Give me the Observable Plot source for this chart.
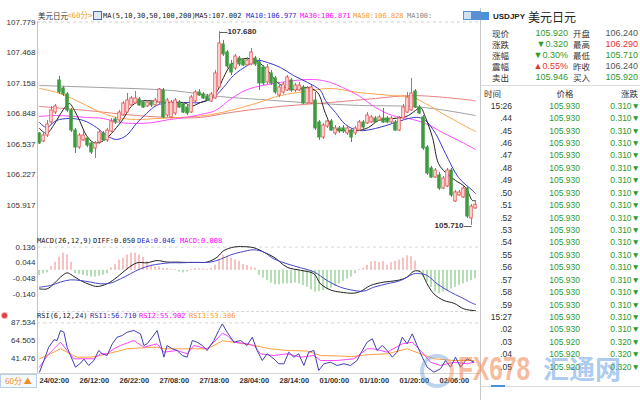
<!DOCTYPE html>
<html><head><meta charset="utf-8">
<script src="https://cdn.jsdelivr.net/npm/d3@7"></script>
<script src="https://cdn.jsdelivr.net/npm/@observablehq/plot@0.6"></script>
<style>
body{margin:0;background:#fff;}
#root{position:relative;width:640px;height:400px;overflow:hidden;font-family:"Liberation Sans","Noto Sans CJK SC",sans-serif;color:#333;background:#fff;}
.abs{position:absolute;white-space:nowrap;line-height:1;}
svg{position:absolute;overflow:visible;}
</style></head><body><div id="root"></div>
<script>
// ---------------- DATA ----------------
const opens = [106.645,106.563,106.624,106.757,106.858,107.184,107.103,107.042,106.879,106.675,
106.502,106.574,106.594,106.543,106.492,106.553,106.645,106.574,106.665,106.787,
106.777,106.828,106.858,106.930,106.950,106.991,106.960,106.920,106.960,106.930,
106.960,107.082,106.828,106.808,106.848,106.960,106.940,106.909,106.858,106.970,
107.062,107.042,107.021,106.970,107.001,107.113,107.550,107.469,107.347,107.306,
107.408,107.388,107.337,107.347,107.408,107.367,107.316,107.164,107.255,107.204,
107.031,107.062,107.082,107.184,107.082,107.082,107.113,106.950,106.950,106.980,
106.757,106.604,106.716,106.767,106.645,106.696,106.696,106.645,106.675,106.645,
106.675,106.757,106.747,106.757,106.797,106.777,106.797,106.797,106.757,106.757,
106.675,106.797,106.858,106.879,107.072,106.909,106.808,106.502,106.289,106.197,
106.218,106.085,106.106,106.268,105.953,106.014,105.994,106.085,105.780,105.882];
const highs = [106.655,106.645,106.777,106.920,106.940,107.225,107.123,107.062,106.899,106.696,
106.645,106.665,106.614,106.563,106.563,106.675,106.665,106.696,106.797,106.808,
106.879,106.970,107.052,107.021,107.072,107.011,106.980,106.980,106.980,107.001,
107.103,107.103,107.001,106.980,107.001,106.980,106.960,106.930,107.031,107.082,
107.092,107.062,107.042,107.062,107.286,107.680,107.591,107.489,107.388,107.449,
107.428,107.408,107.418,107.510,107.428,107.408,107.337,107.347,107.286,107.225,
107.133,107.164,107.235,107.204,107.154,107.164,107.133,107.123,107.133,107.062,
106.777,106.747,106.787,106.787,106.726,106.716,106.726,106.716,106.696,106.716,
106.777,106.777,106.858,106.828,106.818,106.828,106.899,106.818,106.818,106.777,
106.818,106.940,107.062,107.204,107.092,106.930,106.828,106.523,106.309,106.289,
106.248,106.207,106.289,106.289,106.065,106.065,106.106,106.106,105.923,105.963];
const lows = [106.533,106.553,106.604,106.736,106.838,107.042,107.021,106.858,106.655,106.441,
106.482,106.563,106.502,106.431,106.390,106.533,106.563,106.553,106.655,106.736,
106.757,106.818,106.848,106.909,106.940,106.920,106.899,106.909,106.909,106.920,
106.940,106.797,106.808,106.797,106.828,106.899,106.848,106.828,106.848,106.960,
107.021,106.991,106.970,106.960,106.991,107.103,107.428,107.306,107.235,107.286,
107.327,107.327,107.327,107.337,107.327,107.082,107.133,107.143,107.133,107.042,
107.011,107.042,107.072,107.062,107.062,107.072,106.940,106.940,106.940,106.675,
106.574,106.584,106.696,106.665,106.624,106.645,106.645,106.624,106.553,106.624,
106.665,106.686,106.736,106.747,106.747,106.767,106.747,106.747,106.747,106.665,
106.665,106.787,106.848,106.869,106.899,106.838,106.472,106.218,106.187,106.187,
106.065,106.075,106.095,105.994,105.943,106.004,105.984,105.780,105.710,105.872];
const closes = [106.543,106.624,106.736,106.879,106.920,107.062,107.042,106.879,106.675,106.502,
106.624,106.624,106.523,106.452,106.543,106.655,106.574,106.675,106.767,106.757,
106.858,106.950,106.980,107.001,107.001,106.930,106.909,106.960,106.930,106.980,
107.092,106.808,106.980,106.960,106.980,106.909,106.858,106.848,107.011,107.062,
107.031,107.001,106.980,107.042,107.255,107.561,107.449,107.327,107.265,107.428,
107.347,107.337,107.388,107.469,107.347,107.154,107.154,107.316,107.154,107.062,
107.113,107.143,107.215,107.082,107.133,107.133,106.950,107.103,107.113,106.696,
106.604,106.726,106.767,106.675,106.696,106.665,106.665,106.696,106.604,106.696,
106.757,106.706,106.828,106.808,106.757,106.808,106.757,106.757,106.797,106.675,
106.797,106.909,107.011,107.052,106.909,106.848,106.492,106.238,106.197,106.268,
106.085,106.187,106.268,106.014,106.045,106.045,106.085,105.800,105.902,105.920];

// moving averages: [candle index, value]
const ma5 = [[0,106.696],[1.75,106.645],[3.5,106.726],[5,106.828],[6.75,106.930],[7.5,106.950],[8.75,106.879],[10,106.777],[11.75,106.624],[13.5,106.553],[15,106.553],[16.75,106.594],[18,106.645],[19.25,106.706],[21,106.797],[22.5,106.899],[24.25,106.960],[26.75,106.980],[29.25,106.970],[31.75,106.960],[34.25,106.960],[36.75,106.950],[37.75,106.920],[40.25,106.960],[42.75,107.001],[44.5,107.082],[46,107.214],[47.75,107.337],[49.5,107.388],[52,107.408],[54.5,107.377],[57,107.286],[59.5,107.164],[62,107.103],[64.5,107.093],[67,107.113],[69.5,107.062],[71.5,106.848],[73.25,106.706],[75.75,106.675],[79.75,106.675],[82.25,106.706],[84.75,106.777],[88.25,106.797],[90.75,106.808],[92.25,106.828],[94,106.879],[95.25,106.909],[96.5,106.808],[98.25,106.604],[99.75,106.340],[101.5,106.248],[104,106.167],[106.5,106.096],[108.25,105.963],[109,105.963]];
const ma10 = [[0,106.757],[1.75,106.706],[4.25,106.777],[7.5,106.797],[11,106.777],[14.25,106.706],[16.75,106.625],[19.25,106.584],[21.75,106.625],[24.25,106.747],[26.75,106.848],[29.25,106.930],[32.5,106.960],[36.75,106.960],[40.25,106.960],[43.5,107.011],[46,107.113],[48.5,107.235],[52,107.337],[54.5,107.388],[57,107.367],[60.25,107.316],[63.5,107.235],[67,107.164],[70.25,107.082],[71.5,106.980],[74,106.858],[76.5,106.736],[79.75,106.675],[84,106.696],[88.25,106.747],[92.25,106.797],[94.75,106.808],[96.5,106.777],[99,106.645],[101.5,106.441],[104.75,106.197],[108.25,106.065],[109,106.034]];
const ma30 = [[0,106.818],[4.25,106.828],[11.75,106.808],[16,106.797],[20,106.757],[24.25,106.747],[28.5,106.757],[32.5,106.787],[36.75,106.808],[40.25,106.838],[44,106.879],[48,107.001],[52,107.092],[60.25,107.164],[68.5,107.194],[72.75,107.164],[75.75,107.113],[79.75,107.031],[84,106.909],[88.25,106.828],[92.25,106.797],[96.5,106.747],[100.75,106.655],[104.75,106.574],[109,106.482]];
const ma50 = [[0,107.103],[4.25,107.062],[9.25,106.980],[14.25,106.879],[19.25,106.808],[24.25,106.787],[29.25,106.797],[35.25,106.808],[41.5,106.828],[47.75,106.879],[54,106.950],[60.25,107.031],[66.5,107.072],[72.75,107.103],[79.75,107.062],[88.25,107.031],[93.25,107.011],[96.5,106.950],[100.75,106.848],[104.75,106.757],[109,106.665]];
const ma100 = [[0,107.133],[15,107.113],[33,107.082],[45,107.021],[55,106.991],[66,106.960],[80,106.930],[93,106.920],[100,106.889],[109,106.828]];
const ma200 = [[0,106.920],[11.75,106.879],[24.25,106.828],[32.75,106.808],[40.25,106.808],[47.75,106.858],[60.25,106.920],[72.75,106.960],[84,107.001],[93.25,107.031],[108.5,106.980],[109,106.975]];

const macdHist = [-0.03,-0.02,-0.015,0.022,0.047,0.077,0.10,0.09,0.047,-0.02,
-0.025,-0.03,-0.035,-0.04,-0.04,-0.035,-0.03,-0.02,0.015,0.035,
0.06,0.07,0.09,0.1,0.1,0.09,0.075,0.05,0.03,0.02,
0.02,0.01,0.01,0.005,0.005,-0.01,-0.015,-0.01,0.005,0.01,
0.008,0.008,0.005,0.01,0.03,0.06,0.087,0.082,0.07,0.061,
0.052,0.035,0.028,0.018,0.012,-0.03,-0.045,-0.06,-0.075,-0.085,
-0.085,-0.08,-0.08,-0.078,-0.075,-0.08,-0.09,-0.1,-0.115,-0.128,
-0.125,-0.12,-0.115,-0.105,-0.095,-0.08,-0.065,-0.05,-0.04,-0.02,
0.005,0.012,0.03,0.05,0.052,0.045,0.052,0.03,0.045,0.052,
0.06,0.072,0.085,0.08,0.055,-0.01,-0.04,-0.07,-0.1,-0.128,
-0.138,-0.128,-0.12,-0.11,-0.1,-0.09,-0.08,-0.07,-0.06,-0.05];
const diffLine = [[0,-0.109],[1.9,-0.109],[3.6,-0.079],[5.25,-0.040],[6.9,-0.015],[8.2,-0.030],[10.25,-0.060],[12.75,-0.085],[14.4,-0.095],[16.9,-0.079],[19.4,-0.040],[21.9,0.009],[24.4,0.044],[26.9,0.044],[29.4,0.057],[31.9,0.048],[34.4,0.048],[36.9,0.046],[39.4,0.046],[41.9,0.048],[44.4,0.077],[46.1,0.116],[48.6,0.136],[50.25,0.139],[53.6,0.132],[56.1,0.106],[58.6,0.077],[61.9,0.018],[65.25,0.0],[68.6,-0.020],[70.25,-0.079],[72.75,-0.115],[75.25,-0.128],[78.6,-0.134],[80.25,-0.124],[82.75,-0.089],[86.1,-0.069],[89.4,-0.060],[91.9,-0.040],[93.6,-0.005],[95.25,-0.009],[96.9,-0.079],[98.6,-0.138],[101.1,-0.177],[103.6,-0.193],[106.1,-0.226],[108.6,-0.236],[109,-0.236]];
const deaLine = [[0,-0.099],[2.75,-0.089],[5.25,-0.069],[7.75,-0.056],[10.25,-0.060],[12.75,-0.069],[15.25,-0.079],[17.75,-0.075],[20.25,-0.050],[22.75,-0.020],[25.25,0.009],[27.75,0.028],[30.25,0.038],[32.75,0.044],[35.25,0.044],[37.75,0.046],[40.25,0.046],[42.75,0.048],[45.25,0.065],[47.75,0.090],[50.25,0.106],[53.6,0.120],[56.1,0.106],[58.6,0.067],[61.9,0.038],[65.25,0.015],[68.6,-0.009],[71.9,-0.060],[75.25,-0.099],[78.6,-0.118],[81.1,-0.122],[83.6,-0.099],[86.9,-0.079],[90.25,-0.060],[93.6,-0.020],[95.25,-0.020],[96.9,-0.030],[99.4,-0.079],[102.75,-0.128],[105.25,-0.157],[108.6,-0.197],[109,-0.200]];

const rsi1 = [[0,23.3],[1.1,38.5],[2.3,55.8],[3.6,65.4],[4.4,64.5],[5.25,77.5],[6.1,75.3],[6.9,55.8],[7.75,45],[9,29.8],[10.25,35],[11.1,40.2],[12.3,32],[13.6,38.5],[14.8,51.5],[15.7,47.2],[16.9,45],[18.2,60.2],[19.4,68.8],[20.7,71],[21.9,75.3],[23.6,77.5],[25.25,73.2],[26.1,58],[26.9,60.2],[28.2,68.8],[29.4,77.5],[30.25,60.2],[31.1,42.8],[31.9,58],[33.2,53.7],[34.4,51.5],[35.7,45],[36.9,42.8],[38.2,64.5],[39.4,62.3],[40.7,58],[41.9,51.5],[43.6,64.5],[44.8,77.5],[45.7,86.2],[46.9,75.3],[48.6,62.3],[50.25,64.5],[51.9,58],[53.2,68.8],[54.4,51.5],[55.7,38.5],[56.9,47.2],[58.6,40.7],[59.8,34.2],[61.1,34.2],[62.3,49.3],[63.6,42.8],[64.8,47.2],[66.1,32],[67.3,49.3],[68.6,51.5],[69.8,25.5],[71.1,34.2],[72.75,36.3],[74.4,32],[76.1,34.2],[77.75,32],[79.4,38.5],[80.25,47.2],[81.9,62.3],[83.2,66.7],[84.4,51.5],[85.7,58],[86.9,51.5],[88.2,42.8],[89.4,49.3],[90.7,68.8],[91.9,60.2],[93.2,73.2],[94.4,58],[95.7,42.8],[96.9,29.8],[98.6,23.3],[100.25,27.7],[101.5,38.5],[102.75,29.8],[104,42.8],[105.25,29.8],[106.9,40.7],[108.6,36.3]];
const rsi2 = [[0,29.8],[2,45],[3.6,53.7],[5.25,62.3],[6.9,51.5],[8.6,40.7],[11.1,40.7],[13.6,40.7],[15.25,47.2],[16.9,47.2],[18.6,53.7],[20.25,58],[23.6,64.5],[26.1,55.8],[29.4,60.2],[31.1,49.3],[34.4,51.5],[36.9,47.2],[38.6,58],[41.9,53.7],[44.4,66.7],[45.7,74],[46.9,71],[48.6,62.3],[51.9,60.2],[53.6,58],[55.25,47.2],[58.6,45],[61.9,47.2],[65.25,42.8],[68.6,45],[70.25,38.5],[74.4,38.5],[78.6,40.7],[81.9,53.7],[83.6,53.7],[86.9,49.3],[90.7,60.2],[93.2,62.3],[95.25,51.5],[97.75,36.3],[100.25,32],[103.6,36.3],[106.9,34.2],[108.6,36.3]];
const rsi3 = [[0,40.7],[2.75,47.2],[5.25,53.7],[6.9,49.3],[9.4,42.8],[12.75,42.8],[15.25,45],[18.6,49.3],[21.9,53.7],[25.25,54.8],[29.4,55.8],[31.1,53.7],[34.4,53.7],[37.75,53.7],[41.9,53.7],[44.4,60.2],[45.7,64],[48.6,62.3],[53.6,58],[57.75,53.7],[61.9,51.5],[66.9,50.8],[70.25,45],[78.6,43.7],[81.9,46],[86.9,47.2],[91.9,53.7],[95.25,47.2],[98.6,40.7],[103.6,38.5],[108.6,38.5]];

const priceTicks = [105.917,106.227,106.537,106.848,107.158,107.468,107.779];
const macdTicks = [0.136,0.044,-0.048,-0.140];
const rsiTicks = [87.534,64.505,41.476];
const timeTickIdx = [0,10,20,30,40,50,60,70,80,90,100];
const timeLabels = ["24/02:00","26/12:00","26/22:00","27/08:00","27/18:00","28/04:00","28/14:00","01/00:00","01/10:00","01/20:00","02/06:00"];

const quoteRows = [["现价","105.920","开盘","106.240"],["涨跌","▼0.320","最高","106.290"],["涨幅","▼0.30%","最低","105.710"],["震幅","▲0.55%","昨收","106.240"],["卖出","105.946","买入","105.920"]];
const quoteColors = [["#2e9a2e","#555"],["#2e9a2e","#e8302f"],["#2e9a2e","#2e9a2e"],["#e8302f","#555"],["#2e9a2e","#2e9a2e"]];
const tickTimes = ["15:26",".44",".45",".46",".47",".48",".49",".50",".51",".52",".53",".54",".55",".56",".57",".58",".59","15:27",".02",".03",".04",".05"];
const tickPrices = ["105.930","105.930","105.930","105.930","105.930","105.930","105.930","105.930","105.930","105.930","105.930","105.930","105.930","105.930","105.930","105.930","105.930","105.930","105.930","105.920","105.920","105.920"];
const tickChanges = ["0.310","0.310","0.310","0.310","0.310","0.310","0.310","0.310","0.310","0.310","0.310","0.310","0.310","0.310","0.310","0.310","0.310","0.310","0.310","0.320","0.320","0.320"];

// ---------------- DRAW ----------------
const root = document.getElementById("root");
const RED = "#e85a5a", GREEN = "#3f9a3f";
const MONO = "'DejaVu Sans Mono','Noto Sans CJK SC',monospace";
const SANS = "'Liberation Sans','Noto Sans CJK SC',sans-serif";
const CJK = "'Noto Sans CJK SC',sans-serif";

function label(s, x, y, o = {}) {
  const d = document.createElement("div");
  d.className = "abs";
  d.textContent = s;
  const anchor = o.anchor || "start";
  const tx = anchor === "end" ? "-100%" : anchor === "middle" ? "-50%" : "0";
  Object.assign(d.style, {
    left: x + "px", top: y + "px", transform: `translate(${tx},-50%)`,
    fontSize: (o.size || 8) + "px", color: o.color || "#333",
    fontFamily: o.family || SANS, fontWeight: o.weight || "normal"
  });
  root.appendChild(d);
  return d;
}
function box(x, y, w, h, style) {
  const d = document.createElement("div");
  Object.assign(d.style, {position: "absolute", left: x + "px", top: y + "px", width: w + "px", height: h + "px"}, style);
  root.appendChild(d);
  return d;
}
function put(svg, top) { svg.style.left = "0px"; svg.style.top = top + "px"; root.appendChild(svg); }

const candles = opens.map((o, i) => ({i, o, h: highs[i], l: lows[i], c: closes[i], up: closes[i] >= o}));
const upC = candles.filter(d => d.up), dnC = candles.filter(d => !d.up);
const histBars = macdHist.map((v, i) => ({i, v, zero: 0}));
const histUp = histBars.filter(d => d.v >= 0), histDn = histBars.filter(d => d.v < 0);
const xDom = [-0.5, 109.75];
const baseStyle = {fontFamily: "Liberation Sans", fontSize: "8px", background: "transparent", overflow: "visible"};
const ln = (data, stroke, curve = "catmull-rom") => Plot.line(data, {x: d => d[0], y: d => d[1], stroke, strokeWidth: 1, curve});

const hiIdx = d3.maxIndex(highs), loIdx = d3.minIndex(lows);

const main = Plot.plot({
  width: 480, height: 237, marginLeft: 37, marginRight: 2, marginTop: 21.5, marginBottom: 2,
  x: {domain: xDom, axis: null},
  y: {domain: [105.607, 107.779]},
  style: baseStyle,
  marks: [
    Plot.ruleY([d3.max(priceTicks)], {stroke: "#d0d0d0", strokeDasharray: "3,3"}),
    Plot.axisY(priceTicks, {tickFormat: d => d.toFixed(3), tickSize: 0, tickPadding: 2, label: null, fontSize: 8, fill: "#333"}),
    ln(ma100, "#a0a0a0"), ln(ma200, "#e88080"), ln(ma50, "#ffa64d"), ln(ma30, "#ff4dff"),
    ln(ma10, "#3a3acc"), ln(ma5, "#222"),
    Plot.ruleX(upC, {x: "i", y1: "l", y2: "h", stroke: RED}),
    Plot.ruleX(dnC, {x: "i", y1: "l", y2: "h", stroke: GREEN}),
    Plot.rect(upC, {x1: d => d.i - 0.3, x2: d => d.i + 0.3, y1: "o", y2: "c", fill: "#fff", stroke: RED}),
    Plot.rect(dnC, {x1: d => d.i - 0.3, x2: d => d.i + 0.3, y1: "o", y2: "c", fill: GREEN, stroke: GREEN}),
    Plot.text([hiIdx], {x: d => d, y: d => highs[d], text: d => "—" + highs[d].toFixed(3), textAnchor: "start", fontSize: 8, fontWeight: "bold", fill: "#333"}),
    Plot.text([loIdx], {x: d => d, y: d => lows[d], text: d => lows[d].toFixed(3) + "—", textAnchor: "end", fontSize: 8, fontWeight: "bold", fill: "#333"})
  ]
});
put(main, 0);

const macd = Plot.plot({
  width: 480, height: 75, marginLeft: 37, marginRight: 2, marginTop: 0, marginBottom: 0,
  x: {domain: xDom, axis: null},
  y: {domain: [-0.2473, 0.1922]},
  style: baseStyle,
  marks: [
    Plot.ruleY([d3.max(macdTicks)], {stroke: "#d8d8d8", strokeDasharray: "3,3"}),
    Plot.axisY(macdTicks, {tickFormat: d => d.toFixed(3), tickSize: 0, tickPadding: 2, label: null, fontSize: 8, fill: "#333"}),
    Plot.rect(histUp, {x1: d => d.i - 0.13, x2: d => d.i + 0.13, y1: "zero", y2: "v", fill: "#ee8a8a"}),
    Plot.rect(histDn, {x1: d => d.i - 0.13, x2: d => d.i + 0.13, y1: "zero", y2: "v", fill: "#74c074"}),
    ln(diffLine, "#222"), ln(deaLine, "#4646c8")
  ]
});
put(macd, 237);

const rsi = Plot.plot({
  width: 480, height: 76, marginLeft: 37, marginRight: 2, marginTop: 0, marginBottom: 14,
  x: {domain: xDom},
  y: {domain: [20.27, 100.93]},
  style: baseStyle,
  marks: [
    Plot.ruleY([d3.max(rsiTicks)], {stroke: "#d8d8d8", strokeDasharray: "3,3"}),
    Plot.axisY(rsiTicks, {tickFormat: d => d.toFixed(3), tickSize: 0, tickPadding: 2, label: null, fontSize: 8, fill: "#333"}),
    Plot.axisX(timeTickIdx, {tickFormat: d => timeLabels[timeTickIdx.indexOf(d)], tickSize: 0, tickPadding: 3, textAnchor: "start", fontWeight: "bold", fontSize: 7.5, label: null, fill: "#333"}),
    ln(rsi3, "#ffa040", "linear"), ln(rsi2, "#ff44ff", "linear"), ln(rsi1, "#4040b4", "linear")
  ]
});
put(rsi, 312);

// frame lines
box(37, 21, 1, 352, {background: "#c4c4c4"});
box(0, 373, 481, 1, {background: "#d4d4d4"});
box(37, 311, 441, 0, {borderTop: "1px dashed #d8d8d8"});
box(480, 8, 1, 392, {background: "#c8c8c8"});

// legends
const LY = 15.5;
label("美元日元", 38, LY, {size: 7.5, family: CJK, color: "#333"});
label("<60分>", 67, LY, {size: 7.5, family: MONO, color: "#f0a030"});
box(93, 11, 7, 7, {border: "1px solid #4a6fb8", background: "#dfe8f8"});
label("MA(5,10,30,50,100,200)", 103, LY, {size: 7, family: MONO, color: "#222"});
label("MA5:107.002", 195, LY, {size: 7, family: MONO, color: "#222"});
label("MA10:106.977", 246, LY, {size: 7, family: MONO, color: "#2a2ad0"});
label("MA30:106.871", 300, LY, {size: 7, family: MONO, color: "#ff00ff"});
label("MA50:106.828", 353, LY, {size: 7, family: MONO, color: "#ff9a1e"});
label("MA100:", 407, LY, {size: 7, family: MONO, color: "#888"});
box(463, 11, 7, 7, {border: "1px solid #5a8fd0", background: "#cfe0f5"});
box(472, 11, 7, 7, {border: "1px solid #5a8fd0", background: "#5a8fd0"});

label("MACD(26,12,9)", 37, 240.7, {size: 7, family: MONO, color: "#222"});
label("DIFF:0.050", 93, 240.7, {size: 7, family: MONO, color: "#222"});
label("DEA:0.046", 137, 240.7, {size: 7, family: MONO, color: "#2a2ad0"});
label("MACD:0.008", 180, 240.7, {size: 7, family: MONO, color: "#ff00ff"});

box(2, 313, 5, 5, {borderRadius: "50%", background: "#e04040", boxShadow: "0 0 0 1px #f4b0b0"});
label("RSI(6,12,24)", 37, 316, {size: 7, family: MONO, color: "#222"});
label("RSI1:56.710", 90, 316, {size: 7, family: MONO, color: "#3030a8"});
label("RSI2:55.902", 139, 316, {size: 7, family: MONO, color: "#ff00ff"});
label("RSI3:53.386", 189, 316, {size: 7, family: MONO, color: "#ff9a1e"});

box(0, 374, 35, 12, {border: "1px solid #b8d0e6", background: "#f6f9fc"});
label("60分 ▲", 5, 380.5, {size: 8, family: CJK, color: "#f08c20"});

// right quote panel
box(481, 12, 8, 8, {background: "#4a90d8"});
label("USDJPY", 493, 17, {size: 8, weight: "bold", color: "#222"});
label("美元日元", 528, 17, {size: 12, family: CJK, color: "#222"});
const qy = [32.7, 43.7, 54.7, 66, 77.3];
quoteRows.forEach((r, k) => {
  label(r[0], 492, qy[k], {size: 8.5, family: CJK, color: "#333"});
  label(r[1], 568, qy[k], {size: 9, anchor: "end", color: quoteColors[k][0]});
  label(r[2], 573, qy[k], {size: 8.5, family: CJK, color: "#333"});
  label(r[3], 638, qy[k], {size: 9, anchor: "end", color: quoteColors[k][1]});
});
box(481, 85, 159, 1, {background: "#dcdcdc"});
label("时间", 484, 92.5, {size: 8.5, family: CJK, color: "#333"});
label("价格", 565, 92.5, {size: 8.5, family: CJK, color: "#333", anchor: "middle"});
label("涨跌", 638, 92.5, {size: 8.5, family: CJK, color: "#333", anchor: "end"});
tickTimes.forEach((t, k) => {
  const y = 105.7 + k * 12.43;
  label(t, 512, y, {size: 8.5, anchor: "end", color: "#333"});
  label(tickPrices[k], 580, y, {size: 8.5, anchor: "end", color: "#2e9a2e"});
  label(tickChanges[k] + "▼", 640, y, {size: 8.5, anchor: "end", color: "#2e9a2e"});
});
box(481, 386, 159, 1, {background: "#dcdcdc"});
box(491, 385, 14, 2, {background: "#4a90d8"});

// FX678 logo watermark
box(420, 354, 26, 26, {borderRadius: "50%", border: "4px solid rgba(110,160,220,0.45)", borderRightColor: "rgba(240,140,80,0.45)"});
const fx = label("FX678", 458, 368, {size: 34, weight: "bold", color: "rgba(240,120,60,0.5)"});
fx.style.transform = "translate(0,-50%) scaleX(0.72)";
fx.style.transformOrigin = "left center";
label("汇通网", 543, 368, {size: 26, weight: "bold", family: CJK, color: "rgba(70,140,220,0.45)"});
</script></body></html>
